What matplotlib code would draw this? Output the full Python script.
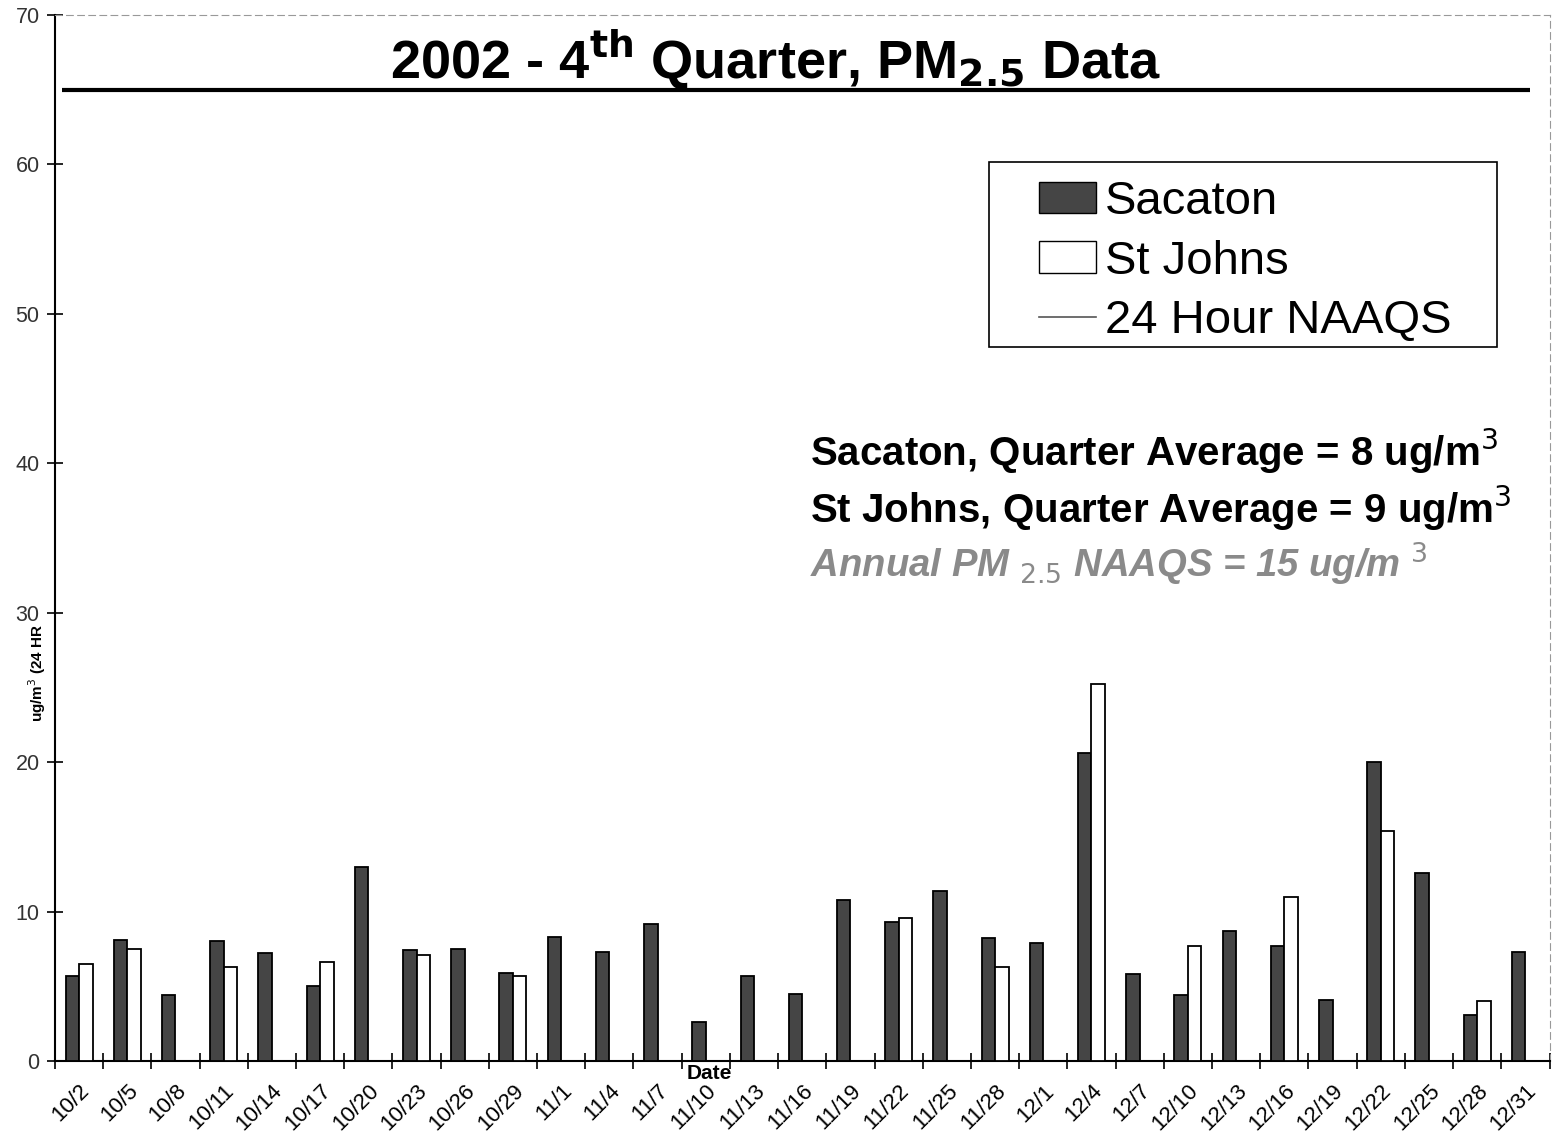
import numpy as np
import matplotlib
matplotlib.use("Agg")
import matplotlib.pyplot as plt
from matplotlib.patches import Patch, Rectangle
from matplotlib.lines import Line2D
from matplotlib.transforms import blended_transform_factory

# ---- data ----
DATES = ["10/2", "10/5", "10/8", "10/11", "10/14", "10/17", "10/20", "10/23",
         "10/26", "10/29", "11/1", "11/4", "11/7", "11/10", "11/13", "11/16",
         "11/19", "11/22", "11/25", "11/28", "12/1", "12/4", "12/7", "12/10",
         "12/13", "12/16", "12/19", "12/22", "12/25", "12/28", "12/31"]

SACATON = [5.7, 8.1, 4.4, 8.0, 7.2, 5.0, 13.0, 7.4, 7.5, 5.9, 8.3, 7.3, 9.2,
           2.6, 5.7, 4.5, 10.8, 9.3, 11.4, 8.2, 7.9, 20.6, 5.8, 4.4, 8.7, 7.7,
           4.1, 20.0, 12.6, 3.1, 7.3]

# St Johns only sampled on some days (None = no sample)
ST_JOHNS = [6.5, 7.5, None, 6.3, None, 6.6, None, 7.1, None, 5.7, None, None,
            None, None, None, None, None, 9.6, None, 6.3, None, 25.2, None, 7.7,
            None, 11.0, None, 15.4, None, 4.0, None]

NAAQS_24HR = 65
SAC_AVG = 8
STJ_AVG = 9
ANNUAL_NAAQS = 15

Y_TICKS = [0, 10, 20, 30, 40, 50, 60, 70]

# ---- style ----
SAC_COLOR = "#454545"
STJ_COLOR = "white"
BAR_W = 0.28
NARROW = ["Liberation Sans Narrow", "Liberation Sans", "DejaVu Sans"]

plt.rcParams["font.family"] = ["Liberation Sans", "DejaVu Sans"]

fig = plt.figure(figsize=(15.65, 11.36), dpi=100)
ax = fig.add_axes([0.0351, 0.066, 0.955, 0.921])

x = np.arange(len(DATES))
ax.bar(x - BAR_W / 2, SACATON, width=BAR_W, color=SAC_COLOR,
       edgecolor="black", linewidth=1.3, zorder=3)

sj_x = [xi for xi, v in zip(x, ST_JOHNS) if v is not None]
sj_v = [v for v in ST_JOHNS if v is not None]
ax.bar(np.array(sj_x) + BAR_W / 2, sj_v, width=BAR_W, color=STJ_COLOR,
       edgecolor="black", linewidth=1.3, zorder=3)

ax.hlines(NAAQS_24HR, x[0] - 0.35, x[-1] + 0.1, color="black", linewidth=3,
          zorder=3)

ax.set_xlim(-0.5, len(DATES) - 0.5)
ax.set_ylim(0, 70)

# axes / ticks
ax.set_yticks(Y_TICKS)
ax.set_yticklabels([str(t) for t in Y_TICKS], fontsize=15.5, family=NARROW,
                   color="#333333")
ax.tick_params(axis="y", direction="inout", length=12, width=1.2, pad=5)

ax.set_xticks(x)
ax.set_xticklabels(DATES, rotation=45, ha="right", rotation_mode="anchor",
                   fontsize=16, family=NARROW)
ax.tick_params(axis="x", which="major", length=0, pad=14)
ax.set_xticks(np.arange(len(DATES) + 1) - 0.5, minor=True)
ax.tick_params(axis="x", which="minor", direction="inout", length=12, width=1.2)

for side in ["left", "bottom"]:
    ax.spines[side].set_linewidth(1.5)
for side in ["top", "right"]:
    ax.spines[side].set_color("#999999")
    ax.spines[side].set_linestyle((0, (6, 4)))
    ax.spines[side].set_linewidth(0.8)

# axis labels
ax.text(0.438, -0.003, "Date", transform=ax.transAxes, ha="center", va="top",
        fontsize=15, fontweight="bold")
fig.text(0.024, 0.408, "ug/m$^3$ (24 HR", rotation=90, ha="center",
         va="center", fontsize=11, fontweight="bold")

# title sits inside the plot above the NAAQS line
trans = blended_transform_factory(ax.transAxes, ax.transData)
ax.text(0.482, 65.8, "2002 - 4$^{\\mathbf{th}}$ Quarter, PM$_{\\mathbf{2.5}}$ Data",
        transform=trans, ha="center", va="baseline", fontsize=39,
        fontweight="bold")

# summary text
ax.text(0.505, 40.8, f"Sacaton, Quarter Average = {SAC_AVG} ug/m$^3$",
        transform=trans, ha="left", va="center", fontsize=29, fontweight="bold")
ax.text(0.505, 37.0, f"St Johns, Quarter Average = {STJ_AVG} ug/m$^3$",
        transform=trans, ha="left", va="center", fontsize=29, fontweight="bold")
ax.text(0.505, 33.2, f"Annual PM $_{{2.5}}$ NAAQS = {ANNUAL_NAAQS} ug/m $^3$",
        transform=trans, ha="left", va="center", fontsize=27.5,
        fontweight="bold", style="italic", color="#8a8a8a")

# legend: box drawn by hand, entries placed inside it
ax.add_patch(Rectangle((0.625, 0.682), 0.34, 0.177, transform=ax.transAxes,
                       facecolor="white", edgecolor="black", linewidth=1.2,
                       zorder=4))
handles = [
    Patch(facecolor=SAC_COLOR, edgecolor="black", linewidth=1.0),
    Patch(facecolor=STJ_COLOR, edgecolor="black", linewidth=1.0),
    Line2D([], [], color="#555555", linewidth=1.2),
]
leg = ax.legend(handles, ["Sacaton", "St Johns", "24 Hour NAAQS"],
                loc="upper left", bbox_to_anchor=(0.652, 0.851),
                borderaxespad=0, fontsize=34, frameon=False,
                handlelength=1.2, handleheight=0.65, handletextpad=0.2,
                labelspacing=0.33, borderpad=0.2)
leg.set_zorder(5)

fig.savefig("out.png", dpi=100)
